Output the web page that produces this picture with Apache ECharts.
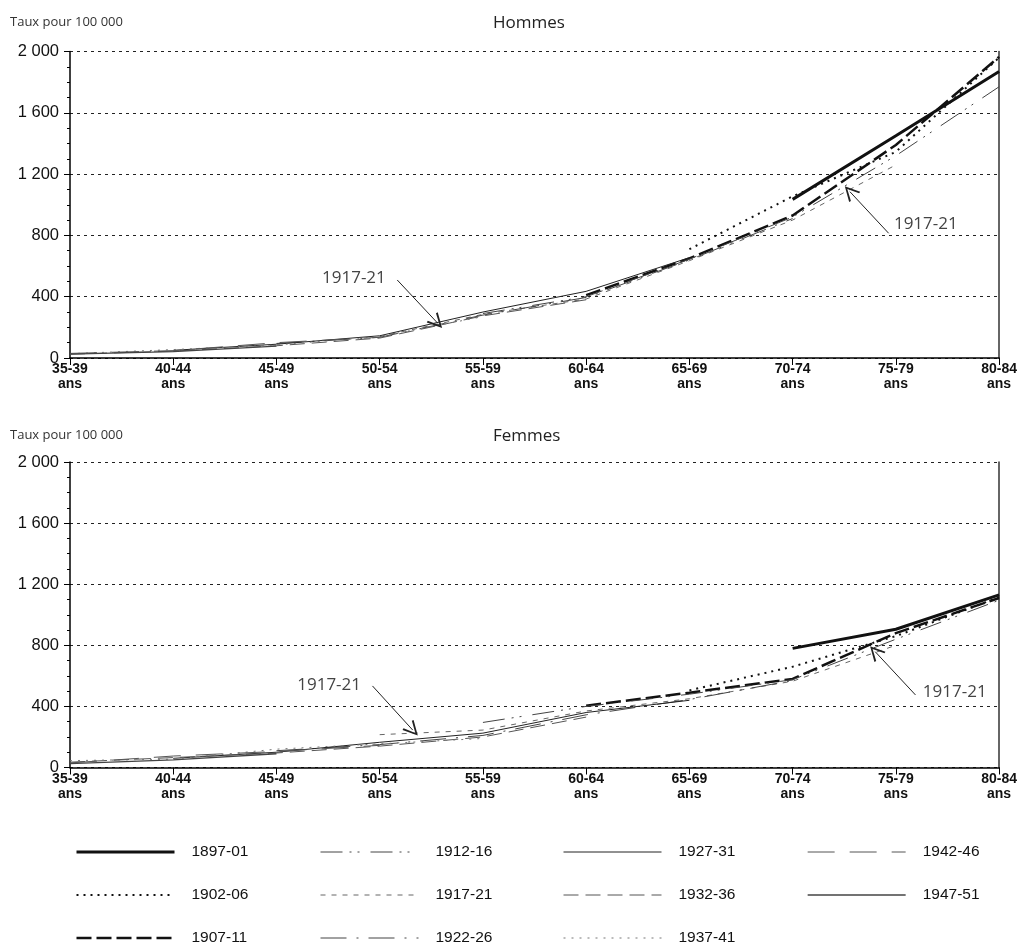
<!DOCTYPE html>
<html>
<head>
<meta charset="utf-8">
<script src="https://cdn.jsdelivr.net/npm/echarts@6/dist/echarts.min.js"></script>
<style>
  html, body { margin: 0; padding: 0; background: #ffffff; }
  #chart { width: 1020px; height: 951px; }
</style>
</head>
<body>
<div id="chart"></div>
<script>
// Age groups along the x axis (one tick per group)
const ageGroups = ['35-39', '40-44', '45-49', '50-54', '55-59', '60-64', '65-69', '70-74', '75-79', '80-84'];
// Birth cohorts, one line each
const cohorts = ['1897-01', '1902-06', '1907-11', '1912-16', '1917-21', '1922-26',
                 '1927-31', '1932-36', '1937-41', '1942-46', '1947-51'];
// Y axis ticks: 0 to 2 000 by 400
const yTicks = [0, 400, 800, 1200, 1600, 2000];

// Rates per 100 000, men, by age group (null = not observed for that cohort)
const hommes_1897_01 = [null, null, null, null, null, null, null, 1035, 1450, 1870];
const hommes_1902_06 = [null, null, null, null, null, null, 710, 1055, 1345, 1960];
const hommes_1907_11 = [null, null, null, null, null, 410, 650, 930, 1390, 1965];
const hommes_1912_16 = [null, null, null, null, 290, 400, 645, 920, 1320, 1770];
const hommes_1917_21 = [null, null, null, 140, 285, 385, 635, 900, 1260, null];
const hommes_1922_26 = [null, null, 95, 135, 280, 395, 640, 910, null, null];
const hommes_1927_31 = [null, 50, 90, 145, 300, 435, 655, null, null, null];
const hommes_1932_36 = [25, 45, 80, 130, 275, 380, null, null, null, null];
const hommes_1937_41 = [28, 55, 85, 140, 270, null, null, null, null, null];
const hommes_1942_46 = [30, 48, 100, 135, null, null, null, null, null, null];
const hommes_1947_51 = [25, 42, 78, null, null, null, null, null, null, null];

// Rates per 100 000, women
const femmes_1897_01 = [null, null, null, null, null, null, null, 780, 905, 1130];
const femmes_1902_06 = [null, null, null, null, null, null, 505, 660, 860, 1115];
const femmes_1907_11 = [null, null, null, null, null, 405, 490, 580, 880, 1110];
const femmes_1912_16 = [null, null, null, null, 295, 400, 480, 575, 840, 1095];
const femmes_1917_21 = [null, null, null, 215, 245, 370, 450, 565, 800, null];
const femmes_1922_26 = [null, null, 110, 150, 210, 345, 445, 570, null, null];
const femmes_1927_31 = [null, 60, 100, 165, 225, 360, 440, null, null, null];
const femmes_1932_36 = [35, 65, 95, 140, 200, 330, null, null, null, null];
const femmes_1937_41 = [45, 55, 120, 155, 190, null, null, null, null, null];
const femmes_1942_46 = [30, 75, 105, 145, null, null, null, null, null, null];
const femmes_1947_51 = [25, 50, 90, null, null, null, null, null, null, null];

const hommesRates = [hommes_1897_01, hommes_1902_06, hommes_1907_11, hommes_1912_16, hommes_1917_21,
  hommes_1922_26, hommes_1927_31, hommes_1932_36, hommes_1937_41, hommes_1942_46, hommes_1947_51];
const femmesRates = [femmes_1897_01, femmes_1902_06, femmes_1907_11, femmes_1912_16, femmes_1917_21,
  femmes_1922_26, femmes_1927_31, femmes_1932_36, femmes_1937_41, femmes_1942_46, femmes_1947_51];

// Stroke of each cohort line
const cohortStyles = [
  { color: '#111', width: 3,   type: 'solid' },
  { color: '#111', width: 2,   type: [2, 5] },
  { color: '#111', width: 2.5, type: [15, 5] },
  { color: '#444', width: 1,   type: [22, 7, 2, 6, 2, 11] },
  { color: '#666', width: 1,   type: [5, 6] },
  { color: '#444', width: 1,   type: [26, 10, 2, 10] },
  { color: '#222', width: 1,   type: 'solid' },
  { color: '#555', width: 1,   type: [15, 7] },
  { color: '#777', width: 1,   type: [2, 6] },
  { color: '#555', width: 1,   type: [27, 15] },
  { color: '#444', width: 1.3, type: 'solid' }
];

// "1917-21" callouts: label centre and arrow, in data coordinates (age index, rate)
const hommesCallouts = [
  { text: [2.75, 520], from: [3.17, 509], to: [3.555, 232] },
  { text: [8.29, 874], from: [7.93, 814], to: [7.555, 1085] }
];
const femmesCallouts = [
  { text: [2.51, 540], from: [2.93, 534], to: [3.32, 245] },
  { text: [8.57, 496], from: [8.19, 475], to: [7.80, 758] }
];

const legendColumns = [
  ['1897-01', '1902-06', '1907-11'],
  ['1912-16', '1917-21', '1922-26'],
  ['1927-31', '1932-36', '1937-41'],
  ['1942-46', '1947-51']
];

const sansFont = 'Liberation Sans, Arial, sans-serif';
const humanistFont = 'Open Sans, Noto Sans, sans-serif';
// Open "V" arrowhead, tip pointing along the callout line
const openArrow = 'path://M6,0 L12,15 L10.5,15.6 L6,3.8 L1.5,15.6 L0,15 Z';

// "2 000" style grouping of thousands
function thousands(v) {
  return String(v).replace(/\B(?=(\d{3})+(?!\d))/g, ' ');
}

function makeXAxis(gridIndex) {
  return {
    type: 'value', gridIndex: gridIndex, min: 0, max: ageGroups.length - 1, interval: 1,
    axisLine: { onZero: false, lineStyle: { color: '#000', width: 1.5 } },
    axisTick: { show: true, length: 7, lineStyle: { color: '#000', width: 1 } },
    axisLabel: {
      formatter: v => ageGroups[v] + '\nans',
      showMinLabel: true, showMaxLabel: true,
      fontFamily: sansFont, fontWeight: 'bold', fontSize: 14, lineHeight: 15,
      color: '#111', margin: 4
    },
    splitLine: { show: false }
  };
}

function makeYAxes(gridIndex) {
  return [{
    type: 'value', gridIndex: gridIndex, position: 'left',
    min: yTicks[0], max: yTicks[yTicks.length - 1], interval: yTicks[1] - yTicks[0],
    axisLine: { show: true, lineStyle: { color: '#000', width: 1.5 } },
    axisTick: { show: true, length: 6, lineStyle: { color: '#000', width: 1 } },
    minorTick: { show: true, splitNumber: 4, length: 3, lineStyle: { color: '#000', width: 1 } },
    axisLabel: { formatter: thousands, fontFamily: sansFont, fontSize: 16.5, color: '#111', margin: 11 },
    splitLine: { show: true, lineStyle: { color: '#222', width: 1, type: [3, 4] } }
  }, {
    type: 'value', gridIndex: gridIndex, position: 'right',
    min: yTicks[0], max: yTicks[yTicks.length - 1],
    axisLine: { show: true, lineStyle: { color: '#333', width: 1.5 } },
    axisTick: { show: false }, axisLabel: { show: false }, splitLine: { show: false }
  }];
}

function calloutMarks(callouts) {
  return {
    markLine: {
      silent: true, animation: false,
      symbol: ['none', openArrow], symbolSize: 15,
      itemStyle: { color: '#222' },
      lineStyle: { color: '#222', width: 1, type: 'solid' },
      label: { show: false },
      data: callouts.map(c => [{ coord: c.from }, { coord: c.to }])
    },
    markPoint: {
      silent: true, animation: false, symbol: 'circle', symbolSize: 0,
      label: { show: true, position: 'inside', formatter: '1917-21',
               fontFamily: humanistFont, fontSize: 17, color: '#444' },
      data: callouts.map(c => ({ coord: c.text }))
    }
  };
}

const series = [];
[hommesRates, femmesRates].forEach((rates, chartIndex) => {
  rates.forEach((values, k) => {
    const points = [];
    values.forEach((v, i) => { if (v !== null) points.push([i, v]); });
    const s = {
      name: cohorts[k], type: 'line',
      xAxisIndex: chartIndex, yAxisIndex: chartIndex * 2,
      data: points, symbol: 'none', silent: true, animation: false,
      color: cohortStyles[k].color,
      lineStyle: { color: cohortStyles[k].color, width: cohortStyles[k].width, type: cohortStyles[k].type },
      z: 3
    };
    if (cohorts[k] === '1917-21') {
      Object.assign(s, calloutMarks(chartIndex === 0 ? hommesCallouts : femmesCallouts));
    }
    series.push(s);
  });
});

const legendLefts = [75, 320, 563, 807];

const option = {
  backgroundColor: '#ffffff',
  animation: false,
  title: [
    { text: 'Taux pour 100 000', left: 5, top: 11,
      textStyle: { fontFamily: humanistFont, fontSize: 13, fontWeight: 'normal', color: '#333' } },
    { text: 'Hommes', left: 488, top: 10,
      textStyle: { fontFamily: humanistFont, fontSize: 17, fontWeight: 'normal', color: '#222' } },
    { text: 'Taux pour 100 000', left: 5, top: 424,
      textStyle: { fontFamily: humanistFont, fontSize: 13, fontWeight: 'normal', color: '#333' } },
    { text: 'Femmes', left: 488, top: 423,
      textStyle: { fontFamily: humanistFont, fontSize: 17, fontWeight: 'normal', color: '#222' } }
  ],
  grid: [
    { left: 70, right: 17.5, top: 51.5, height: 306.5 },
    { left: 70, right: 17.5, top: 462, height: 305.5 }
  ],
  xAxis: [makeXAxis(0), makeXAxis(1)],
  yAxis: makeYAxes(0).concat(makeYAxes(1)),
  legend: legendColumns.map((names, ci) => ({
    data: names, orient: 'vertical', left: legendLefts[ci], top: 844,
    height: 200, padding: 0,
    itemWidth: 98, itemHeight: 14, itemGap: 27, selectedMode: false,
    lineStyle: { width: 'inherit' },
    itemStyle: { opacity: 0, borderWidth: 0 },
    textStyle: { fontFamily: sansFont, fontSize: 15.5, color: '#111', padding: [0, 0, 0, 12] }
  })),
  series: series
};

const chart = echarts.init(document.getElementById('chart'), null, { renderer: 'canvas' });
chart.setOption(option);
</script>
</body>
</html>
